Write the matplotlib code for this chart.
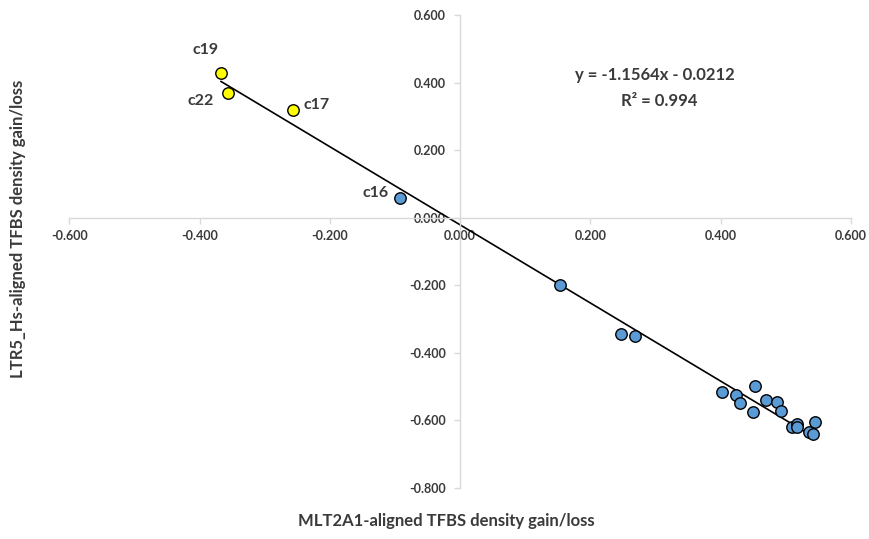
import matplotlib.pyplot as plt
import numpy as np

# yellow (labelled) points
hl_names = ["c19", "c22", "c17"]
hl_x = [-0.367, -0.356, -0.257]
hl_y = [0.429, 0.368, 0.320]

# blue points (c16 first)
blue_x = [-0.093, 0.153, 0.247, 0.268, 0.402, 0.424, 0.430, 0.453, 0.449,
          0.470, 0.486, 0.492, 0.510, 0.517, 0.517, 0.544, 0.536, 0.542]
blue_y = [0.059, -0.199, -0.345, -0.351, -0.517, -0.526, -0.549, -0.498, -0.576,
          -0.540, -0.545, -0.573, -0.618, -0.610, -0.620, -0.604, -0.635, -0.639]

slope, intercept = -1.1564, -0.0212
eq_text = "y = -1.1564x - 0.0212"
r2_text = "R² = 0.994"

x_ticks = [-0.6, -0.4, -0.2, 0.0, 0.2, 0.4, 0.6]
y_ticks = [-0.8, -0.6, -0.4, -0.2, 0.0, 0.2, 0.4, 0.6]

plt.rcParams['font.family'] = ['Lato', 'DejaVu Sans']
plt.rcParams['font.weight'] = 'bold'
txt = '#3a3a3a'
axis_col = '#d9d9d9'

fig = plt.figure(figsize=(8.69, 5.39), dpi=100)
ax = fig.add_axes([0.0797, 0.0946, 0.8996, 0.8776])

all_x = hl_x + blue_x
xs = np.array([min(all_x), max(all_x)])
ax.plot(xs, slope * xs + intercept, color='black', lw=1.2, zorder=2)

ax.scatter(blue_x, blue_y, s=68, color='#5b9bd5', edgecolors='black', linewidths=1.0, zorder=3)
ax.scatter(hl_x, hl_y, s=68, color='#ffff00', edgecolors='black', linewidths=1.0, zorder=3)

# point labels
lab = dict(textcoords='offset points', ha='center', va='center', fontsize=11.5, color=txt)
ax.annotate("c19", (hl_x[0], hl_y[0]), xytext=(-11.5, 16.3), **lab)
ax.annotate("c22", (hl_x[1], hl_y[1]), xytext=(-20, -5.3), **lab)
ax.annotate("c17", (hl_x[2], hl_y[2]), xytext=(17.3, 3.6), **lab)
ax.annotate("c16", (blue_x[0], blue_y[0]), xytext=(-17.5, 3.6), **lab)

ax.text(0.299, 0.422, eq_text, ha='center', va='center', fontsize=12, color=txt)
ax.text(0.305, 0.346, r2_text, ha='center', va='center', fontsize=12, color=txt)

ax.set_xlim(-0.6, 0.6)
ax.set_ylim(-0.8, 0.6)
ax.set_xticks(x_ticks)
ax.set_yticks(y_ticks)
ax.set_xticklabels([f"{v:.3f}" for v in x_ticks])
ax.set_yticklabels([f"{v:.3f}" for v in y_ticks])

ax.spines['left'].set_position(('data', 0))
ax.spines['bottom'].set_position(('data', 0))
ax.spines['right'].set_visible(False)
ax.spines['top'].set_visible(False)
for s in ['left', 'bottom']:
    ax.spines[s].set_color(axis_col)
    ax.spines[s].set_linewidth(1.0)
ax.tick_params(axis='both', direction='out', length=4, width=1.0, color=axis_col,
               labelsize=9, labelcolor=txt)
ax.tick_params(axis='x', pad=5)
ax.tick_params(axis='y', pad=6)

fig.text(0.514, 0.033, "MLT2A1-aligned TFBS density gain/loss", ha='center', va='center',
         fontsize=12, color=txt)
fig.text(0.021, 0.575, "LTR5_Hs-aligned TFBS density gain/loss", ha='center', va='center',
         rotation=90, fontsize=12, color=txt)

fig.savefig("out.png", dpi=100)
